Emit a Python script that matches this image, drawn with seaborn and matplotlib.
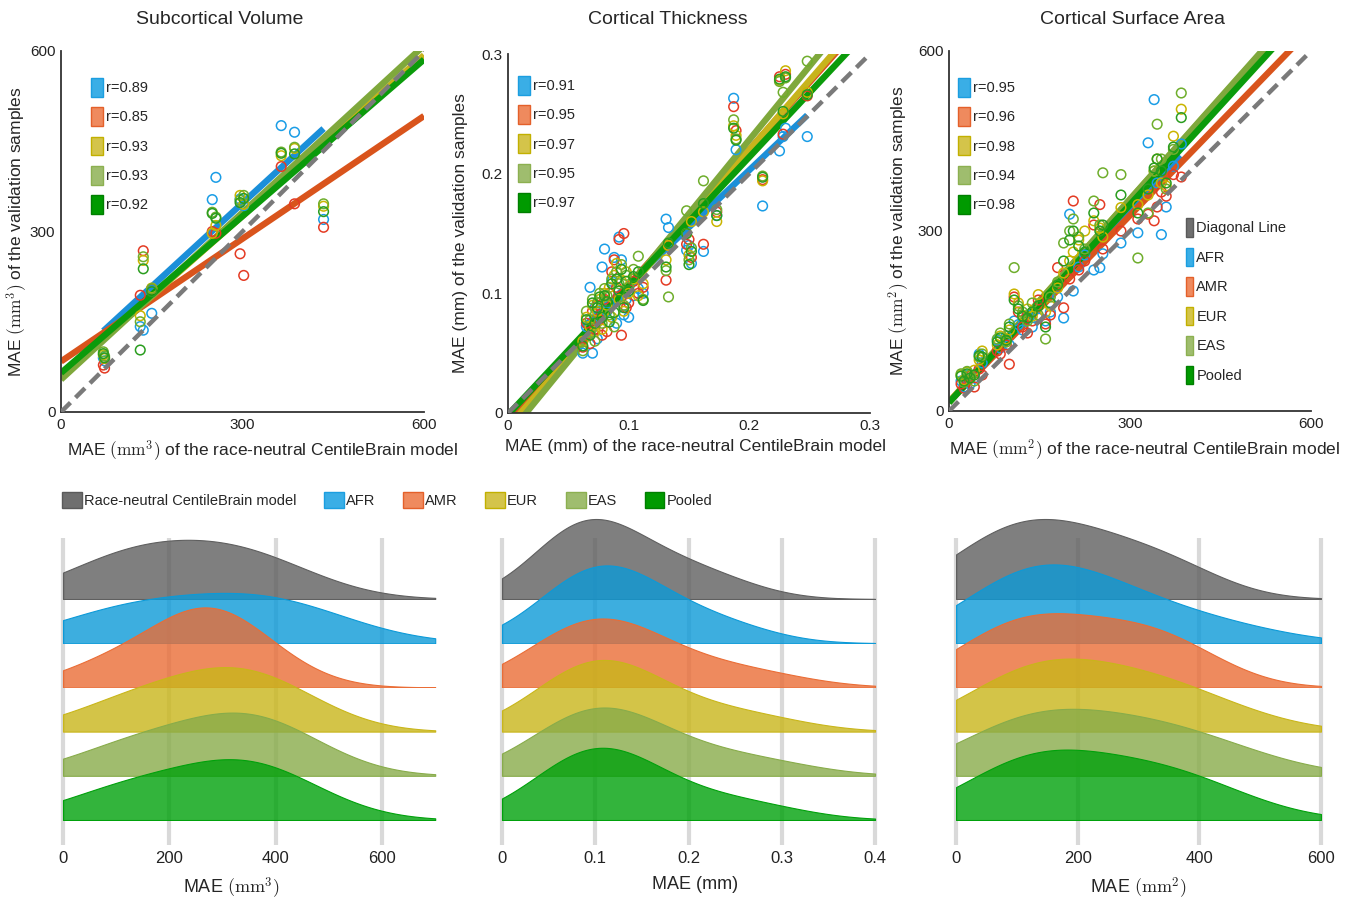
import numpy as np
import pandas as pd
import matplotlib.pyplot as plt
import seaborn as sb
from matplotlib.patches import Patch

sb.set_style("white")
plt.rcParams["font.family"] = ["Liberation Sans", "DejaVu Sans"]
plt.rcParams["mathtext.fontset"] = "cm"

groups = ["AFR", "AMR", "EUR", "EAS", "Pooled"]

# Subcortical volume: x = race-neutral model MAE per region, y = validation MAE per group
sv_x = [70, 72, 131, 136, 150, 250, 256, 296, 302, 364, 386, 434]
sv_afr = [90, 85, 142, 136, 164, 353, 390, 354, 343, 476, 465, 320]
sv_amr = [78, 73, 194, 268, 205, 300, 297, 263, 227, 408, 346, 307]
sv_eur = [95, 89, 160, 252, 206, 297, 310, 360, 345, 426, 438, 342]
sv_eas = [100, 93, 150, 258, 205, 332, 324, 352, 360, 432, 440, 346]
sv_pool = [97, 90, 103, 238, 200, 330, 322, 348, 355, 430, 429, 333]
sv_r = [0.89, 0.85, 0.93, 0.93, 0.92]
sv_slope = [0.924, 0.68, 0.89, 0.925, 0.868]
sv_icpt = [70, 84, 59, 54, 65]

# Cortical thickness
ct_x = [0.062, 0.065, 0.068, 0.070, 0.072, 0.074, 0.076, 0.078, 0.080, 0.082, 0.084, 0.086,
        0.088, 0.090, 0.092, 0.094, 0.096, 0.098, 0.100, 0.104, 0.108, 0.112, 0.131, 0.133,
        0.148, 0.150, 0.152, 0.162, 0.173, 0.187, 0.189, 0.211, 0.225, 0.228, 0.230, 0.248]
ct_afr = [0.050, 0.072, 0.105, 0.050, 0.088, 0.062, 0.080, 0.122, 0.137, 0.085, 0.092, 0.110,
          0.130, 0.075, 0.147, 0.128, 0.082, 0.095, 0.080, 0.098, 0.104, 0.100, 0.162, 0.155,
          0.136, 0.140, 0.125, 0.135, 0.165, 0.263, 0.220, 0.173, 0.219, 0.231, 0.238, 0.231]
ct_amr = [0.055, 0.075, 0.058, 0.085, 0.070, 0.090, 0.078, 0.065, 0.095, 0.068, 0.100, 0.118,
          0.128, 0.105, 0.145, 0.065, 0.150, 0.088, 0.092, 0.110, 0.100, 0.105, 0.111, 0.140,
          0.141, 0.145, 0.130, 0.141, 0.168, 0.256, 0.236, 0.195, 0.281, 0.233, 0.283, 0.265]
ct_eur = [0.060, 0.080, 0.072, 0.090, 0.068, 0.085, 0.095, 0.070, 0.100, 0.090, 0.105, 0.080,
          0.115, 0.125, 0.095, 0.110, 0.085, 0.118, 0.100, 0.112, 0.098, 0.108, 0.128, 0.140,
          0.150, 0.132, 0.160, 0.168, 0.160, 0.240, 0.232, 0.194, 0.278, 0.250, 0.286, 0.268]
ct_eas = [0.052, 0.085, 0.078, 0.095, 0.060, 0.092, 0.100, 0.075, 0.104, 0.098, 0.082, 0.112,
          0.072, 0.118, 0.108, 0.124, 0.090, 0.115, 0.105, 0.120, 0.131, 0.095, 0.119, 0.097,
          0.169, 0.128, 0.138, 0.194, 0.170, 0.245, 0.229, 0.198, 0.277, 0.268, 0.280, 0.294]
ct_pool = [0.056, 0.078, 0.065, 0.092, 0.075, 0.088, 0.097, 0.080, 0.098, 0.093, 0.076, 0.108,
           0.084, 0.112, 0.102, 0.120, 0.088, 0.110, 0.102, 0.114, 0.118, 0.094, 0.122, 0.142,
           0.150, 0.124, 0.135, 0.175, 0.165, 0.238, 0.228, 0.197, 0.279, 0.252, 0.281, 0.266]
ct_r = [0.91, 0.95, 0.97, 0.95, 0.97]
ct_slope = [0.955, 1.13, 1.16, 1.234, 1.077]
ct_icpt = [0.012, -0.006, -0.012, -0.0185, -0.0015]

# Cortical surface area
cs_x = [20, 25, 30, 35, 42, 50, 55, 80, 85, 95, 100, 108, 115, 122, 130, 138, 148, 160, 168,
        180, 190, 200, 206, 215, 225, 240, 250, 255, 285, 313, 330, 340, 345, 352, 360, 372, 385]
cs_afr = [50, 40, 60, 45, 55, 95, 80, 118, 105, 125, 110, 150, 144, 135, 160, 140, 155, 150, 165,
          190, 155, 328, 200, 240, 260, 235, 239, 262, 280, 297, 447, 519, 380, 294, 340, 408, 445]
cs_amr = [45, 38, 50, 58, 40, 70, 60, 100, 95, 110, 78, 190, 165, 140, 130, 150, 185, 145, 160,
          239, 172, 220, 350, 235, 250, 310, 344, 270, 300, 320, 328, 317, 340, 365, 358, 394, 390]
cs_eur = [60, 52, 65, 55, 68, 85, 100, 110, 125, 120, 135, 195, 180, 160, 170, 158, 194, 165, 175,
          205, 230, 250, 265, 285, 300, 317, 305, 290, 339, 344, 360, 400, 420, 380, 375, 458, 503]
cs_eas = [62, 48, 66, 60, 50, 90, 95, 120, 130, 115, 145, 239, 175, 165, 150, 180, 160, 120, 190,
          215, 280, 300, 320, 290, 270, 350, 310, 397, 394, 255, 330, 400, 478, 420, 370, 436, 530]
cs_pool = [58, 50, 62, 55, 60, 92, 90, 115, 122, 118, 140, 185, 170, 158, 155, 165, 175, 140, 180,
           210, 250, 285, 300, 275, 265, 330, 300, 310, 360, 330, 370, 405, 420, 400, 380, 440, 489]
cs_r = [0.95, 0.96, 0.98, 0.94, 0.98]
cs_slope = [1.05, 1.037, 1.125, 1.13, 1.10]
cs_icpt = [20, 15, 15, 14, 14]

line_cols = ["#1b8fd9", "#d9541c", "#c7b41c", "#7fa83c", "#0b9b0b"]
dot_cols = ["#1a9de6", "#e43b24", "#c9b400", "#6fae2c", "#2a9d1f"]
leg_face = ["#3aaee6", "#ef8a5e", "#d4c44a", "#9fbd6e", "#009a00"]
leg_edge = ["#1b9ee0", "#e4602a", "#c2b000", "#8cb050", "#007f00"]
ridge_cols = ["#5f5f5f", "#0c9ad8", "#ea6d36", "#c9b61a", "#88ac4a", "#00a10b"]

panels = [
    dict(title="Subcortical Volume", x=sv_x, ys=[sv_afr, sv_amr, sv_eur, sv_eas, sv_pool],
         r=sv_r, slope=sv_slope, icpt=sv_icpt, lim=600, ticks=[0, 300, 600],
         unit=r"$(\mathrm{mm}^3)$"),
    dict(title="Cortical Thickness", x=ct_x, ys=[ct_afr, ct_amr, ct_eur, ct_eas, ct_pool],
         r=ct_r, slope=ct_slope, icpt=ct_icpt, lim=0.3, ticks=[0, 0.1, 0.2, 0.3],
         unit="(mm)"),
    dict(title="Cortical Surface Area", x=cs_x, ys=[cs_afr, cs_amr, cs_eur, cs_eas, cs_pool],
         r=cs_r, slope=cs_slope, icpt=cs_icpt, lim=600, ticks=[0, 300, 600],
         unit=r"$(\mathrm{mm}^2)$"),
]

W, H = 1365, 901
fig = plt.figure(figsize=(13.65, 9.01), dpi=100)

# top row layout in pixels: left, top, right, bottom
top_boxes = [(61, 51, 424, 412), (508, 54, 870, 413), (949, 51, 1311, 411)]
title_x = [220, 668, 1133]
ylab_x = [-0.088, -0.110, -0.105]
xlab_x = [0.554, 0.519, 0.539]
leg_pos = [(0.083, 0.925), (0.028, 0.939), (0.025, 0.925)]

for p, (pn, box) in enumerate(zip(panels, top_boxes)):
    l, t, r_, b = box
    ax = fig.add_axes([l / W, 1 - b / H, (r_ - l) / W, (b - t) / H])
    lim = pn["lim"]
    xs_all = np.array(pn["x"])
    for k, g in enumerate(groups):
        # AFR fit only drawn over its sampled range
        if g == "AFR":
            lx = np.array([xs_all.min(), xs_all.max()])
        else:
            lx = np.array([0, lim])
        ly = pn["slope"][k] * lx + pn["icpt"][k]
        ax.plot(lx, ly, color=line_cols[k], lw=4.6, solid_capstyle="butt", zorder=2)
    for k, g in enumerate(groups):
        sb.scatterplot(x=pn["x"], y=pn["ys"][k], ax=ax, s=48, zorder=3, legend=False)
        pts = ax.collections[-1]
        pts.set_facecolor("none")
        pts.set_edgecolor(dot_cols[k])
        pts.set_linewidth(1.1)
    ax.plot([0, lim], [0, lim], color="#7a7a7a", lw=3.2, ls=(0, (3, 1.6)), zorder=4)
    ax.set_xlim(0, lim)
    ax.set_ylim(0, lim)
    ax.set_xticks(pn["ticks"])
    ax.set_yticks(pn["ticks"])
    ax.set_xticklabels([f"{v:g}" for v in pn["ticks"]])
    ax.set_yticklabels([f"{v:g}" for v in pn["ticks"]])
    ax.tick_params(length=0, labelsize=11, pad=4, colors="#222222")
    sb.despine(ax=ax)
    for s in ["left", "bottom"]:
        ax.spines[s].set_color("#333333")
        ax.spines[s].set_linewidth(1.3)
    ax.set_xlabel("MAE " + pn["unit"] + " of the race-neutral CentileBrain model", fontsize=12.5)
    ax.set_ylabel("MAE " + pn["unit"] + " of the validation samples", fontsize=12.5)
    ax.xaxis.set_label_coords(xlab_x[p], -0.072)
    ax.yaxis.set_label_coords(ylab_x[p], 0.5)
    fig.text(title_x[p] / W, 1 - 20 / H, pn["title"], ha="center", va="center", fontsize=14)

    hs = [Patch(facecolor=leg_face[k], edgecolor=leg_edge[k], lw=1) for k in range(5)]
    leg = ax.legend(hs, [f"r={v:.2f}" for v in pn["r"]], loc="upper left",
                    bbox_to_anchor=leg_pos[p], frameon=False, fontsize=10.5,
                    handlelength=0.82, handleheight=1.6, handletextpad=0.2,
                    labelspacing=0.72, borderpad=0, borderaxespad=0)
    if p == 2:
        ax.add_artist(leg)
        hs2 = [Patch(facecolor="#6f6f6f", edgecolor="#5a5a5a")] + \
              [Patch(facecolor=leg_face[k], edgecolor=leg_edge[k]) for k in range(5)]
        ax.legend(hs2, ["Diagonal Line"] + groups, loc="upper left",
                  bbox_to_anchor=(0.655, 0.536), frameon=False, fontsize=10.5,
                  handlelength=0.5, handleheight=1.6, handletextpad=0.2,
                  labelspacing=0.74, borderpad=0, borderaxespad=0)

# bottom ridgelines
bot_xlim = [(-6, 706), (-0.005, 0.405), (-6, 606)]
bot_px = [(59.8, 438.4), (497.3, 879.7), (952.4, 1324.6)]
bot_end = [700, 0.4, 600]
bot_ticks = [[0, 200, 400, 600], [0, 0.1, 0.2, 0.3, 0.4], [0, 200, 400, 600]]
bot_bw = [1.6, 2.0, 1.7]
bot_labx = [0.452, 0.517, 0.5]

for p, pn in enumerate(panels):
    x0, x1 = bot_px[p]
    bg = fig.add_axes([x0 / W, 1 - 845 / H, (x1 - x0) / W, 307 / H])
    bg.set_xlim(bot_xlim[p])
    bg.set_ylim(0, 1)
    bg.set_xticks(bot_ticks[p])
    bg.set_xticklabels([f"{v:g}" for v in bot_ticks[p]])
    bg.set_yticks([])
    bg.grid(True, axis="x", color="#d9d9d9", lw=3)
    for s in bg.spines.values():
        s.set_visible(False)
    bg.tick_params(axis="x", length=0, labelsize=12, pad=4, colors="#222222")
    bg.set_xlabel("MAE " + pn["unit"], fontsize=13)
    bg.xaxis.set_label_coords(bot_labx[p], -0.101)

    series = [pn["x"]] + pn["ys"]
    raxes = []
    for i, vals in enumerate(series):
        base = 599 + 44.2 * i
        a = fig.add_axes([x0 / W, 1 - base / H, (x1 - x0) / W, 100 / H])
        a.patch.set_alpha(0)
        sb.kdeplot(x=vals, ax=a, fill=True, color=ridge_cols[i], alpha=0.8, linewidth=0.8,
                   clip=(0, bot_end[p]), bw_adjust=bot_bw[p], cut=6)
        a.set_xlim(bot_xlim[p])
        a.set_axis_off()
        raxes.append(a)
    peak = max(a.collections[0].get_paths()[0].vertices[:, 1].max() for a in raxes)
    for a in raxes:
        a.set_ylim(0, peak * 100 / 80)

bh = [Patch(facecolor="#6f6f6f", edgecolor="#5a5a5a")] + \
     [Patch(facecolor=leg_face[k], edgecolor=leg_edge[k]) for k in range(5)]
fig.legend(bh, ["Race-neutral CentileBrain model"] + groups, loc="center left",
           bbox_to_anchor=(62 / W, 1 - 500 / H), ncol=6, frameon=False, fontsize=10.5,
           handlelength=1.35, handleheight=1.35, handletextpad=0.15, columnspacing=1.9,
           borderpad=0, borderaxespad=0)

fig.savefig("out.png", dpi=100)
